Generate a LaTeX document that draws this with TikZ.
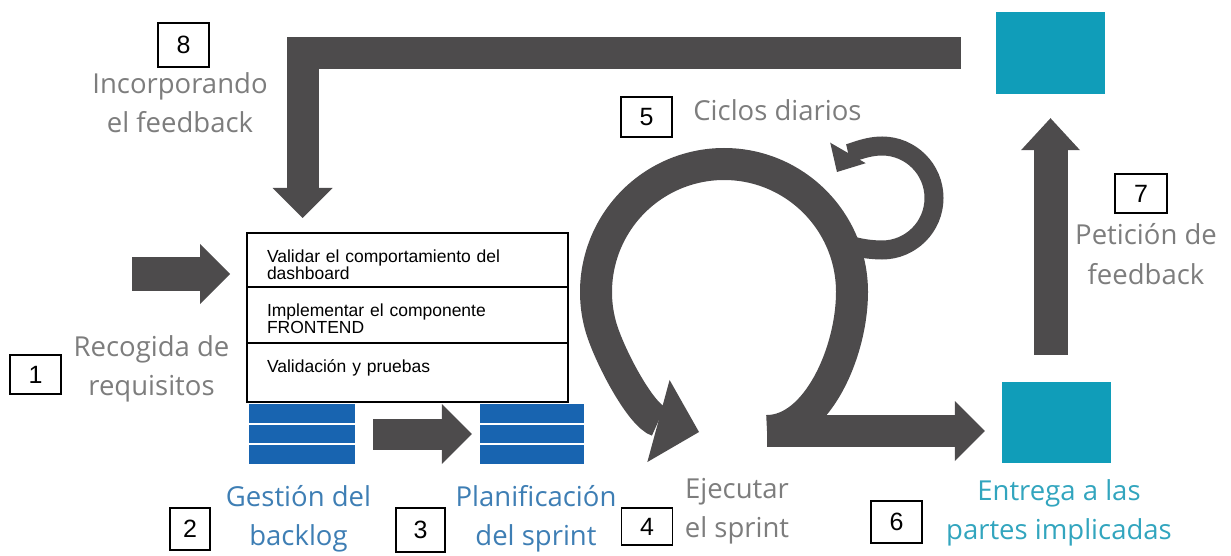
\documentclass[tikz,border=0pt]{standalone}
\usepackage{fontspec}
\setmainfont{Open Sans}
\newfontfamily\arial{Liberation Sans}
\usetikzlibrary{arrows.meta,positioning}
\definecolor{oscuro}{RGB}{77,75,76}
\definecolor{gristxt}{RGB}{125,125,125}
\definecolor{azultxt}{RGB}{62,126,180}
\definecolor{turqtxt}{RGB}{50,165,190}
\definecolor{turquesa}{RGB}{16,157,185}
\definecolor{azul}{RGB}{24,100,176}

\begin{document}
\begin{tikzpicture}[x=1pt, y=1pt,
	flecha/.style = {draw=oscuro, line width=32pt, line join=miter, -{Triangle[width=60pt, length=30pt, line width=0pt]}},
	num/.style = {draw, line width=1.2pt, font=\arial\fontsize{25}{25}\selectfont, inner sep=0pt, minimum width=51pt, minimum height=40pt},
	etiq/.style = {font=\fontsize{27.5}{33}\selectfont, text=gristxt, inner sep=0pt, text height=21pt, text depth=7pt, node distance=39pt},
	fila/.style = {draw, line width=1.2pt, outer sep=0pt, inner xsep=20pt, inner ysep=0pt, text width=281pt, align=left, font=\arial\fontsize{17.5}{17.5}\selectfont},
	pila/.style = {fill=azul, inner sep=0pt, minimum width=106pt, minimum height=60pt, path picture={
		\draw[white, line width=2.5pt] ([yshift=-20pt]path picture bounding box.north west) -- ([yshift=-20pt]path picture bounding box.north east)
			([yshift=20pt]path picture bounding box.south west) -- ([yshift=20pt]path picture bounding box.south east);}},
	caja/.style = {fill=turquesa, inner sep=0pt, minimum width=109pt, minimum height=82pt}]
	\useasboundingbox (0,0) rectangle (1231,555);

	\node[caja] (fbtop) at (1050.5,502) {};
	\node[caja, minimum height=81pt] (entrega) at (1056.5,132.5) {};
	\node[pila] (b2) at (302,121) {};
	\node[pila, minimum width=104pt] (b3) at (532,121) {};
	\node[fila, anchor=north west] (r1) at (247,322) {\rule{0pt}{29pt}Validar el comportamiento del\\dashboard\rule[-7.5pt]{0pt}{7.5pt}};
	\node[fila] (r2) [below=0pt of r1] {\rule{0pt}{29pt}Implementar el componente\\FRONTEND\rule[-9.5pt]{0pt}{9.5pt}};
	\node[fila] (r3) [below=0pt of r2] {\rule[-30pt]{0pt}{59pt}Validación y pruebas};

	\coordinate (ent) at (132,281);
	\coordinate (raiz) at (767,124);
	\coordinate (rama) at (840,317);
	\draw[flecha, line width=33pt, shorten >=17pt] (ent) -- (ent -| r1.west);
	\draw[flecha, line width=31pt, shorten <=18pt, shorten >=8pt] (b2) -- (b3);
	\draw[flecha, shorten <=35pt, shorten >=15pt] (fbtop.west) -| ([xshift=55.5pt]r1.north west);
	\draw[flecha, line width=34pt, -{Triangle[width=59pt, length=32pt, line width=0pt]}, shorten <=27pt, shorten >=24pt] (entrega.north -| fbtop.south) -- (fbtop.south);
	\draw[flecha, shorten >=17pt] (raiz) -- (raiz -| entrega.west);
	\draw[flecha, -{Triangle[width=85pt, length=42pt, line width=0pt]}] (raiz) .. controls (817,124) and (852,203) .. (852,263) arc[start angle=0, end angle=195, radius=128pt] .. controls (608.2,200.9) and (641.1,138.7) .. (699,123);
	\draw[flecha, line width=19pt, -{Triangle[width=41pt, length=22pt, line width=0pt]}] (rama) .. controls (844,308) and (870,305) .. (882,305) arc[start angle=-90, end angle=150, radius=52pt];

	\node[num, minimum height=44pt] (n8) at (183.5,510) {8};
	\node[num, minimum height=39pt] (n1) at (35.5,180.5) {1};
	\node[num, minimum width=40pt, minimum height=42pt] (n2) at (190,26) {2};
	\node[num, minimum width=49pt, minimum height=44pt] (n3) at (420.5,25) {3};
	\node[num, minimum height=37pt] (n4) at (647,28.5) {4};
	\node[num] (n5) at (646.5,438) {5};
	\node[num, minimum height=42pt] (n6) at (896.5,33) {6};
	\node[num, minimum width=52pt, minimum height=39pt] (n7) at (1141,361.5) {7};

	\node[etiq, anchor=base] (l8a) at (180,461) {Incorporando};
	\node[etiq] (l8b) [below of = l8a] {el feedback};
	\node[etiq, anchor=base] (l1a) at (151.5,199) {Recogida de};
	\node[etiq] (l1b) [below of = l1a] {requisitos};
	\node[etiq, text=azultxt, anchor=base] (l2a) at (298.5,49) {Gestión del};
	\node[etiq, text=azultxt] (l2b) [below of = l2a] {backlog};
	\node[etiq, text=azultxt, anchor=base] (l3a) at (536,49) {Planificación};
	\node[etiq, text=azultxt] (l3b) [below of = l3a] {del sprint};
	\node[etiq, anchor=base] (l4a) at (737,57) {Ejecutar};
	\node[etiq] (l4b) [below of = l4a] {el sprint};
	\node[etiq, anchor=base] (l5) at (777.5,434) {Ciclos diarios};
	\node[etiq, text=turqtxt, anchor=base] (l6a) at (1059,55) {Entrega a las};
	\node[etiq, text=turqtxt] (l6b) [below of = l6a] {partes implicadas};
	\node[etiq, anchor=base] (l7a) at (1146,310) {Petición de};
	\node[etiq] (l7b) [below of = l7a] {feedback};
\end{tikzpicture}
\end{document}
